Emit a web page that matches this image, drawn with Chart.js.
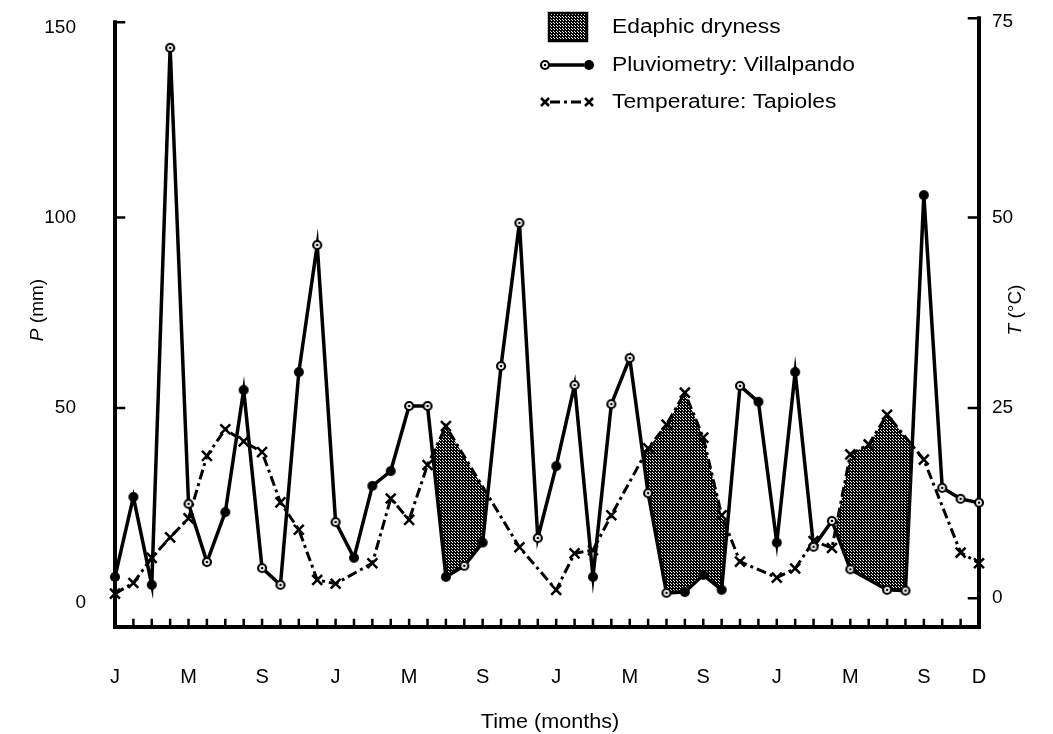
<!DOCTYPE html>
<html>
<head>
<title>Edaphic dryness - Villalpando / Tapioles</title>
<script src="https://cdn.jsdelivr.net/npm/chart.js@4"></script>
<style>body { margin: 0; background: #fff; }</style>
</head>
<body>
<canvas id="chart" width="1053" height="734"></canvas>
<script>
// month letters, four years Jan..Dec
const months = ['J', 'F', 'M', 'A', 'M', 'J', 'J', 'A', 'S', 'O', 'N', 'D'];
const monthLabels = [].concat(months, months, months, months);
// months that carry a letter under the axis
const shownMonths = [0, 4, 8, 12, 16, 20, 24, 28, 32, 36, 40, 44, 47];
const pTicks = [0, 50, 100, 150];
const tTicks = [0, 25, 50, 75];

// Pluviometry: Villalpando (mm)
const rain = [5.6, 26.6, 3.5, 144.6, 24.8, 9.5, 22.6, 54.7, 7.9, 3.5, 59.4, 92.8,
              20.0, 10.6, 29.5, 33.4, 50.5, 50.5, 5.6, 8.5, 14.6, 61.0, 98.6, 15.8,
              34.7, 56.0, 5.6, 51.0, 63.1, 27.6, 1.4, 1.6, 6.1, 2.2, 55.8, 51.6,
              14.6, 59.4, 13.5, 20.3, 7.6, null, 2.2, 2.0, 105.9, 29.0, 26.1, 25.1];
// Temperature: Tapioles (°C), null where no mark is drawn
const temp = [0.6, 2.0, 5.3, 8.0, 10.5, 18.7, 22.2, 20.6, 19.2, 12.6, 9.0, 2.4,
              1.9, null, 4.6, 13.1, 10.3, 17.5, 22.6, null, null, null, 6.7, null,
              1.1, 5.9, 6.3, 10.9, null, 19.7, 22.8, 27.0, 21.1, 10.9, 4.8, null,
              2.7, 3.9, 7.5, 6.6, 18.9, 20.2, 24.1, null, 18.2, null, 6.0, 4.6];
// dry periods (first and last month index)
const dryWindows = [[17, 22], [27, 34], [39, 44]];

// rain marks drawn as open circled dots instead of filled dots
const openMarks = [3, 4, 5, 8, 9, 11, 12, 16, 17, 19, 21, 22, 23, 25, 27, 28, 29, 30,
                   34, 38, 39, 40, 42, 43, 45, 46, 47];

const FONT = '"Liberation Sans", Arial, sans-serif';

function makeCanvas(w, h, draw) {
    const c = document.createElement('canvas');
    c.width = w; c.height = h;
    draw(c.getContext('2d'));
    return c;
}

const dotMark = makeCanvas(12, 12, g => {
    g.fillStyle = '#000';
    g.beginPath(); g.arc(6, 6, 5, 0, Math.PI * 2); g.fill();
});
const ringMark = makeCanvas(12, 12, g => {
    g.fillStyle = '#fff';
    g.strokeStyle = '#000';
    g.lineWidth = 2.2;
    g.beginPath(); g.arc(6, 6, 4, 0, Math.PI * 2); g.fill(); g.stroke();
    g.fillStyle = '#000';
    g.beginPath(); g.arc(6, 6, 1.3, 0, Math.PI * 2); g.fill();
});

// stipple used for the dry areas
const tile = makeCanvas(3, 3, g => {
    g.fillStyle = '#000';
    g.fillRect(0, 0, 3, 3);
    g.fillStyle = '#fff';
    g.fillRect(1, 1, 1, 1);
    g.fillRect(2, 2, 1, 1);
});
const ctx = document.getElementById('chart').getContext('2d');
const stipple = ctx.createPattern(tile, 'repeat');

const dryDatasets = dryWindows.map(([a, b]) => ({
    label: 'Edaphic dryness',
    data: temp.map((v, i) => (i >= a && i <= b ? v : null)),
    yAxisID: 'yT',
    borderWidth: 0,
    pointRadius: 0,
    spanGaps: true,
    fill: { target: 0, above: stipple, below: 'rgba(0,0,0,0)' }
}));

// axes frame with inward ticks and the value labels
const framePlugin = {
    id: 'frame',
    beforeDatasetsDraw(chart) {
        const { ctx, chartArea: a, scales } = chart;
        const topP = scales.yP.getPixelForValue(150) - 5;
        const topT = scales.yT.getPixelForValue(75) - 9;
        ctx.save();
        ctx.strokeStyle = '#000';
        ctx.lineCap = 'square';
        ctx.lineWidth = 4;
        ctx.beginPath();
        ctx.moveTo(a.left, topP);
        ctx.lineTo(a.left, a.bottom);
        ctx.lineTo(a.right, a.bottom);
        ctx.lineTo(a.right, topT);
        ctx.stroke();
        ctx.lineWidth = 2.5;
        ctx.beginPath();
        ctx.moveTo(a.left, topP); ctx.lineTo(a.left + 9, topP);
        pTicks.slice(1, 3).forEach(v => {
            const y = scales.yP.getPixelForValue(v);
            ctx.moveTo(a.left, y); ctx.lineTo(a.left + 9, y);
        });
        ctx.moveTo(a.right, topT); ctx.lineTo(a.right - 10, topT);
        tTicks.slice(0, 3).forEach(v => {
            const y = scales.yT.getPixelForValue(v);
            ctx.moveTo(a.right, y); ctx.lineTo(a.right - 10, y);
        });
        monthLabels.forEach((m, i) => {
            const x = scales.x.getPixelForValue(i);
            ctx.moveTo(x, a.bottom); ctx.lineTo(x, a.bottom - 7);
        });
        ctx.stroke();

        ctx.fillStyle = '#000';
        ctx.font = '19px ' + FONT;
        ctx.textBaseline = 'middle';
        ctx.textAlign = 'right';
        pTicks.forEach(v => {
            ctx.fillText(String(v), v === 0 ? 86 : 76, scales.yP.getPixelForValue(v) + (v === 0 ? 5 : 0));
        });
        ctx.textAlign = 'left';
        tTicks.forEach(v => {
            ctx.fillText(String(v), a.right + 13, scales.yT.getPixelForValue(v) + (v === 75 ? -6 : 0));
        });
        ctx.restore();
    }
};

function drawCross(g, x, y) {
    g.beginPath();
    g.moveTo(x - 4, y - 4); g.lineTo(x + 4, y + 4);
    g.moveTo(x + 4, y - 4); g.lineTo(x - 4, y + 4);
    g.stroke();
}

// text drawn a little wider, like the original lettering
function wideText(g, text, x, y, stretch) {
    g.save();
    g.translate(x, y);
    g.scale(stretch, 1);
    g.fillText(text, 0, 0);
    g.restore();
}

// axis titles and legend
const textPlugin = {
    id: 'texts',
    afterDraw(chart) {
        const g = chart.ctx;
        g.save();
        g.fillStyle = '#000';
        g.strokeStyle = '#000';
        g.textBaseline = 'middle';

        function rotTitle(x, y, ital, rest) {
            g.save();
            g.translate(x, y);
            g.rotate(-Math.PI / 2);
            g.font = 'italic 19px ' + FONT;
            const w1 = g.measureText(ital).width;
            g.font = '19px ' + FONT;
            const w2 = g.measureText(rest).width;
            const x0 = -(w1 + w2) / 2;
            g.textAlign = 'left';
            g.font = 'italic 19px ' + FONT;
            g.fillText(ital, x0, 0);
            g.font = '19px ' + FONT;
            g.fillText(rest, x0 + w1, 0);
            g.restore();
        }
        rotTitle(38, 310, 'P', ' (mm)');
        rotTitle(1016, 310, 'T', ' (°C)');

        g.font = '20px ' + FONT;
        g.textAlign = 'center';
        wideText(g, 'Time (months)', 550, 722, 1.08);

        // legend
        g.textAlign = 'left';
        g.font = '20px ' + FONT;
        wideText(g, 'Edaphic dryness', 612, 27, 1.14);
        wideText(g, 'Pluviometry: Villalpando', 612, 65, 1.14);
        wideText(g, 'Temperature: Tapioles', 612, 102, 1.14);

        g.fillStyle = stipple;
        g.fillRect(549, 13, 38, 28);
        g.lineWidth = 2.5;
        g.strokeRect(549, 13, 38, 28);

        g.lineWidth = 3.5;
        g.beginPath(); g.moveTo(549, 65); g.lineTo(584, 65); g.stroke();
        g.drawImage(ringMark, 545 - 6, 65 - 6);
        g.drawImage(dotMark, 589 - 6, 65 - 6);

        g.lineWidth = 3;
        g.setLineDash([10, 4, 3, 4]);
        g.beginPath(); g.moveTo(550, 102); g.lineTo(584, 102); g.stroke();
        g.setLineDash([]);
        g.lineWidth = 2.5;
        drawCross(g, 545, 102);
        drawCross(g, 589, 102);
        g.restore();
    }
};

const tickFont = { family: FONT, size: 20 };

new Chart(ctx, {
    type: 'line',
    data: {
        labels: monthLabels,
        datasets: [
            {
                label: 'Pluviometry: Villalpando',
                data: rain,
                yAxisID: 'yP',
                borderColor: '#000',
                borderWidth: 3.5,
                spanGaps: true,
                clip: false,
                pointStyle: c => (openMarks.includes(c.dataIndex) ? ringMark : dotMark),
                fill: false
            },
            {
                label: 'Temperature: Tapioles',
                data: temp,
                yAxisID: 'yT',
                borderColor: '#000',
                borderWidth: 3,
                borderDash: [10, 4, 3, 4],
                spanGaps: true,
                clip: false,
                pointStyle: 'crossRot',
                pointRadius: 7,
                pointBorderWidth: 2.5,
                pointBorderColor: '#000',
                fill: false
            },
            ...dryDatasets
        ]
    },
    options: {
        responsive: false,
        animation: false,
        layout: { padding: { top: 20, left: 0, right: 0, bottom: 0 } },
        plugins: { legend: { display: false }, tooltip: { enabled: false } },
        scales: {
            x: {
                type: 'category',
                offset: false,
                grid: { display: false, drawTicks: false },
                border: { display: false },
                ticks: {
                    autoSkip: false,
                    maxRotation: 0,
                    padding: 38,
                    color: '#000',
                    font: tickFont,
                    callback: (v, i) => (shownMonths.includes(i) ? monthLabels[i] : '')
                },
                afterFit: s => { s.height = 107; }
            },
            yP: {
                position: 'left',
                min: -7.57,
                max: 151.92,
                grid: { display: false, drawTicks: false },
                border: { display: false },
                ticks: { display: false },
                afterFit: s => { s.width = 115; }
            },
            yT: {
                position: 'right',
                min: -3.78,
                max: 75.96,
                grid: { display: false, drawTicks: false },
                border: { display: false },
                ticks: { display: false },
                afterFit: s => { s.width = 74; }
            }
        }
    },
    plugins: [framePlugin, textPlugin]
});
</script>
</body>
</html>
